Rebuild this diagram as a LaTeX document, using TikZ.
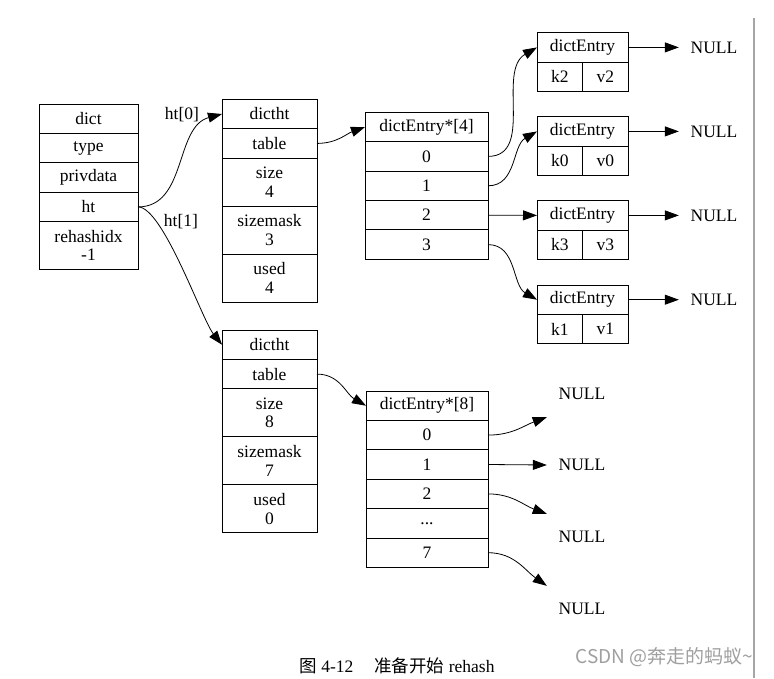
\documentclass[tikz,border=0pt]{standalone}
\usepackage{fontspec}
\setmainfont{Liberation Serif}
\newfontfamily\cjk{Noto Sans CJK SC}
\usetikzlibrary{positioning,arrows.meta}

\tikzset{
fld/.style={draw,rectangle,line width=0.9pt,
inner sep=0pt,outer sep=0pt,
minimum width=#1,minimum height=29.4pt,
align=center,font=\fontsize{17.5}{18.5}\selectfont},
tall/.style={minimum height=48pt},
nul/.style={inner sep=0pt,minimum width=70pt,minimum height=46pt,
font=\fontsize{17.5}{19}\selectfont},
arr/.style={-{Triangle[length=14pt,width=10pt]},line width=0.8pt}
}

\begin{document}
\begin{tikzpicture}[x=1pt,y=-1pt]
\useasboundingbox (0,0) rectangle (774,678);

% dict
\node[fld=99pt](dict) at (88.5,118.7){dict};
\node[fld=99pt,below=0pt of dict](type){type};
\node[fld=99pt,below=0pt of type](priv){privdata};
\node[fld=99pt,below=0pt of priv](ht){ht};
\node[fld=99pt,tall,below=0pt of ht](idx){rehashidx\\-1};

% ht[0]
\node[fld=95pt](ht0) at (269.5,114){dictht};
\node[fld=95pt,below=0pt of ht0](tab0){table};
\node[fld=95pt,tall,below=0pt of tab0](size0){size\\4};
\node[fld=95pt,tall,below=0pt of size0](mask0){sizemask\\3};
\node[fld=95pt,tall,below=0pt of mask0](used0){used\\4};

% ht[1]
\node[fld=95pt](ht1) at (269.5,344.7){dictht};
\node[fld=95pt,below=0pt of ht1](tab1){table};
\node[fld=95pt,tall,below=0pt of tab1](size1){size\\8};
\node[fld=95pt,tall,below=0pt of size1](mask1){sizemask\\7};
\node[fld=95pt,tall,below=0pt of mask1](used1){used\\0};

\node[font=\fontsize{17.5}{19}\selectfont](lab0) at (182,115){ht[0]};
\node[font=\fontsize{17.5}{19}\selectfont](lab1) at (181,222){ht[1]};

% table of ht[0]
\node[fld=123pt](arr0) at (426.5,127){dictEntry*[4]};
\node[fld=123pt,below=0pt of arr0](a0){0};
\node[fld=123pt,below=0pt of a0](a1){1};
\node[fld=123pt,below=0pt of a1](a2){2};
\node[fld=123pt,below=0pt of a2](a3){3};

% table of ht[1]
\node[fld=122pt](arr1) at (427,405.7){dictEntry*[8]};
\node[fld=122pt,below=0pt of arr1](b0){0};
\node[fld=122pt,below=0pt of b0](b1){1};
\node[fld=122pt,below=0pt of b1](b2){2};
\node[fld=122pt,below=0pt of b2](bd){...};
\node[fld=122pt,below=0pt of bd](b7){7};

% entries
\node[fld=91pt](e2) at (582.5,47.4){dictEntry};
\node[fld=45.5pt,anchor=north west](k2) at (e2.south west){k2};
\node[fld=45.5pt,anchor=north west](v2) at (k2.north east){v2};

\node[fld=91pt](e0) at (582.5,131.4){dictEntry};
\node[fld=45.5pt,anchor=north west](k0) at (e0.south west){k0};
\node[fld=45.5pt,anchor=north west](v0) at (k0.north east){v0};

\node[fld=91pt](e3) at (582.5,215.4){dictEntry};
\node[fld=45.5pt,anchor=north west](k3) at (e3.south west){k3};
\node[fld=45.5pt,anchor=north west](v3) at (k3.north east){v3};

\node[fld=91pt](e1) at (582.5,299.7){dictEntry};
\node[fld=45.5pt,anchor=north west](k1) at (e1.south west){k1};
\node[fld=45.5pt,anchor=north west](v1) at (k1.north east){v1};

\node[nul](ne2) at (714,47.4){NULL};
\node[nul](ne0) at (714,131.4){NULL};
\node[nul](ne3) at (714,215.4){NULL};
\node[nul](ne1) at (714,299.7){NULL};

\node[nul](nb0) at (582,394){NULL};
\node[nul](nb1) at (582,465){NULL};
\node[nul](nb2) at (582,537){NULL};
\node[nul](nb7) at (582,609){NULL};

\draw[arr] (ht.east) to[out=0,in=195] (ht0.west);
\draw[arr] (ht.east) .. controls +(25,0) and +(-20,-25) .. (ht1.west);
\draw[arr] (tab0.east) to[out=0,in=200] (arr0.west);
\draw[arr] (tab1.east) to[out=0,in=150] (arr1.west);

\draw[arr] (a0.east) to[out=0,in=210] (e2.west);
\draw[arr] (a1.east) to[out=0,in=210] (e0.west);
\draw[arr] (a2.east) -- (e3.west);
\draw[arr] (a3.east) to[out=0,in=150] (e1.west);

\draw[arr] (e2.east) -- (ne2.west);
\draw[arr] (e0.east) -- (ne0.west);
\draw[arr] (e3.east) -- (ne3.west);
\draw[arr] (e1.east) -- (ne1.west);

\draw[arr] (b0.east) to[out=0,in=200] (nb0.south west);
\draw[arr] (b1.east) -- (nb1.west);
\draw[arr] (b2.east) to[out=0,in=160] (nb2.north west);
\draw[arr] (b7.east) to[out=0,in=145] (nb7.north west);

% page edge and caption
\draw[gray!70,line width=1.2pt] (754,18) -- (754,678);
\node[font=\fontsize{17.5}{19}\selectfont](cap) at (397,666){{\cjk 图} 4-12\hspace{1.2em}{\cjk 准备开始} rehash};
\node[anchor=west,text=gray!75,font=\cjk\fontsize{19}{21}\selectfont](wm) at (572,657){CSDN @奔走的蚂蚁\textasciitilde};
\end{tikzpicture}
\end{document}
